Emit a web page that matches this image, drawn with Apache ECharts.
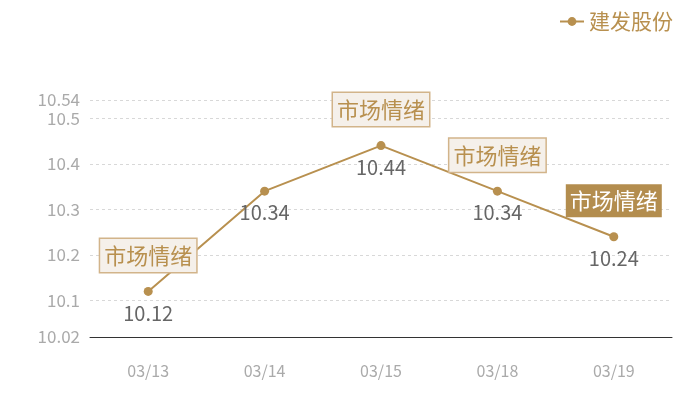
<!DOCTYPE html>
<html>
<head>
<meta charset="utf-8">
<style>
  html, body { margin: 0; padding: 0; background: #fff; }
  #main { width: 700px; height: 400px; }
</style>
<script src="https://cdn.jsdelivr.net/npm/echarts@6/dist/echarts.min.js"></script>
</head>
<body>
<div id="main"></div>
<script>
var dates = ['03/13', '03/14', '03/15', '03/18', '03/19'];
var prices = [10.12, 10.34, 10.44, 10.34, 10.24];
var seriesName = '建发股份';
var moodText = '市场情绪';
var moodIdx = [0, 2, 3];     // light boxes
var moodHotIdx = [4];        // dark box

var gold = '#b8904f';
var font = '"Noto Sans CJK SC", "Noto Sans", sans-serif';

var lightLabel = {
    show: true,
    formatter: moodText,
    color: gold,
    fontSize: 22,
    lineHeight: 27,
    fontFamily: font,
    backgroundColor: '#f5f0ea',
    borderColor: '#d2b48a',
    borderWidth: 1.5,
    padding: [4, 4, 2, 4],
    offset: [0, -36]
};
var darkLabel = {
    show: true,
    formatter: moodText,
    color: '#fff',
    fontSize: 22,
    lineHeight: 27,
    fontFamily: font,
    backgroundColor: '#b38d4e',
    padding: [4, 4, 2, 4],
    offset: [0, -36]
};

var marks = [];
moodIdx.forEach(function (i) {
    marks.push({ coord: [i, prices[i]], label: lightLabel });
});
moodHotIdx.forEach(function (i) {
    marks.push({ coord: [i, prices[i]], label: darkLabel });
});

var myChart = echarts.init(document.getElementById('main'));
var option = {
    animation: false,
    legend: {
        right: 22,
        top: 6,
        itemWidth: 24,
        itemHeight: 11,
        textStyle: { color: gold, fontSize: 21, fontFamily: font },
        data: [seriesName]
    },
    grid: {
        left: 90,
        right: 28,
        top: 100,
        bottom: 63
    },
    xAxis: {
        type: 'category',
        data: dates,
        axisLine: { lineStyle: { color: '#333' } },
        axisTick: { show: false },
        axisLabel: { color: '#aaa', fontSize: 16, margin: 26, fontFamily: font }
    },
    yAxis: {
        type: 'value',
        min: function (v) { return +(v.min - 0.1).toFixed(2); },
        max: function (v) { return +(v.max + 0.1).toFixed(2); },
        axisLine: { show: false },
        axisTick: { show: false },
        splitLine: { lineStyle: { color: '#d8d8d8', type: [3, 3] } },
        axisLabel: { color: '#aaa', fontSize: 17, margin: 10, fontFamily: font }
    },
    series: [
        {
            name: seriesName,
            type: 'line',
            data: prices,
            symbol: 'circle',
            symbolSize: 9,
            itemStyle: { color: gold },
            lineStyle: { color: gold, width: 2 },
            label: {
                show: true,
                position: 'bottom',
                distance: 7,
                color: '#666',
                fontSize: 20,
                fontFamily: font
            },
            markPoint: {
                symbol: 'circle',
                symbolSize: 1,
                itemStyle: { color: 'rgba(0,0,0,0)' },
                data: marks
            }
        }
    ]
};
myChart.setOption(option);
</script>
</body>
</html>
